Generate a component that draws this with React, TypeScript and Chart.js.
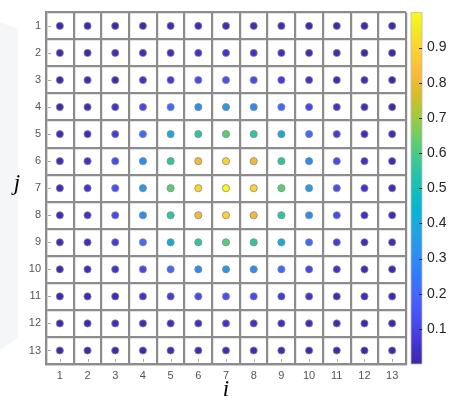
import { useEffect, useRef } from 'react';
import { Chart, registerables } from 'chart.js';

Chart.register(...registerables);

// ---- data ----
const iLabels = ['1', '2', '3', '4', '5', '6', '7', '8', '9', '10', '11', '12', '13'];
const jLabels = ['1', '2', '3', '4', '5', '6', '7', '8', '9', '10', '11', '12', '13'];

const row1 = [0.01, 0.01, 0.01, 0.01, 0.02, 0.02, 0.02, 0.02, 0.02, 0.01, 0.01, 0.01, 0.01];
const row2 = [0.01, 0.01, 0.02, 0.02, 0.03, 0.04, 0.05, 0.04, 0.03, 0.02, 0.02, 0.01, 0.01];
const row3 = [0.01, 0.02, 0.02, 0.05, 0.08, 0.12, 0.14, 0.12, 0.08, 0.05, 0.02, 0.02, 0.01];
const row4 = [0.01, 0.02, 0.05, 0.11, 0.21, 0.30, 0.34, 0.30, 0.21, 0.11, 0.05, 0.02, 0.01];
const row5 = [0.02, 0.03, 0.08, 0.21, 0.41, 0.55, 0.62, 0.55, 0.41, 0.21, 0.08, 0.03, 0.02];
const row6 = [0.02, 0.04, 0.12, 0.30, 0.55, 0.81, 0.90, 0.81, 0.55, 0.30, 0.12, 0.04, 0.02];
const row7 = [0.02, 0.05, 0.14, 0.34, 0.62, 0.90, 1.00, 0.90, 0.62, 0.34, 0.14, 0.05, 0.02];
const row8 = [0.02, 0.04, 0.12, 0.30, 0.55, 0.81, 0.90, 0.81, 0.55, 0.30, 0.12, 0.04, 0.02];
const row9 = [0.02, 0.03, 0.08, 0.21, 0.41, 0.55, 0.62, 0.55, 0.41, 0.21, 0.08, 0.03, 0.02];
const row10 = [0.01, 0.02, 0.05, 0.11, 0.21, 0.30, 0.34, 0.30, 0.21, 0.11, 0.05, 0.02, 0.01];
const row11 = [0.01, 0.02, 0.02, 0.05, 0.08, 0.12, 0.14, 0.12, 0.08, 0.05, 0.02, 0.02, 0.01];
const row12 = [0.01, 0.01, 0.02, 0.02, 0.03, 0.04, 0.05, 0.04, 0.03, 0.02, 0.02, 0.01, 0.01];
const row13 = [0.01, 0.01, 0.01, 0.01, 0.02, 0.02, 0.02, 0.02, 0.02, 0.01, 0.01, 0.01, 0.01];
const valueRows = [row1, row2, row3, row4, row5, row6, row7, row8, row9, row10, row11, row12, row13];

const colorbarTicks = [0.1, 0.2, 0.3, 0.4, 0.5, 0.6, 0.7, 0.8, 0.9];
const colorbarMin = 0;
const colorbarMax = 1;

const xTitle = 'i';
const yTitle = 'j';

// ---- parula colormap ----
const PARULA: number[][] = [
  [0.2422, 0.1504, 0.6603],
  [0.2706, 0.2147, 0.8364],
  [0.2813, 0.3006, 0.9414],
  [0.2699, 0.3892, 0.9906],
  [0.1963, 0.4847, 0.9892],
  [0.1687, 0.5703, 0.9359],
  [0.1248, 0.6459, 0.8883],
  [0.0297, 0.7082, 0.8163],
  [0.0964, 0.75, 0.712],
  [0.2161, 0.7843, 0.5923],
  [0.3909, 0.8029, 0.4354],
  [0.6174, 0.7876, 0.2612],
  [0.8203, 0.7498, 0.1535],
  [0.9728, 0.7298, 0.2394],
  [0.9892, 0.8136, 0.1885],
  [0.9597, 0.9135, 0.1423],
  [0.9769, 0.9839, 0.0805],
];
const PARULA_POS = PARULA.map((_, k) => (k < 16 ? (k * 4) / 63 : 1));

function parula(v: number): string {
  const t = Math.max(0, Math.min(1, (v - colorbarMin) / (colorbarMax - colorbarMin)));
  let k = 0;
  while (k < PARULA.length - 2 && t > PARULA_POS[k + 1]) k++;
  const a = PARULA[k];
  const b = PARULA[k + 1];
  const f = (t - PARULA_POS[k]) / (PARULA_POS[k + 1] - PARULA_POS[k]);
  const c = [0, 1, 2].map((n) => Math.round(255 * (a[n] + (b[n] - a[n]) * f)));
  return `rgb(${c[0]},${c[1]},${c[2]})`;
}

const points: { x: string; y: string; v: number }[] = [];
valueRows.forEach((row, jIdx) => {
  row.forEach((v, iIdx) => {
    points.push({ x: iLabels[iIdx], y: jLabels[jIdx], v });
  });
});

const GRID = '#8c8c8c';

const extrasPlugin = {
  id: 'extras',
  beforeDraw(chart: any) {
    const ctx = chart.ctx;
    ctx.save();
    ctx.fillStyle = '#f4f6f8';
    ctx.beginPath();
    ctx.moveTo(0, 22);
    ctx.lineTo(18, 29);
    ctx.lineTo(18, 338);
    ctx.lineTo(0, 350);
    ctx.closePath();
    ctx.fill();
    ctx.restore();
  },
  afterDraw(chart: any) {
    const ctx = chart.ctx;
    const area = chart.chartArea;
    const cb = chart.scales.cb;
    const xs = chart.scales.x;
    const ys = chart.scales.y;
    ctx.save();
    // colorbar
    const x0 = area.right + 5;
    const w = 11;
    const top = cb.top;
    const bottom = cb.bottom;
    for (let y = Math.floor(top); y < Math.ceil(bottom); y++) {
      const v = cb.getValueForPixel(y + 0.5);
      ctx.fillStyle = parula(v);
      ctx.fillRect(x0, y, w, 1);
    }
    ctx.strokeStyle = '#bdbdbd';
    ctx.lineWidth = 0.8;
    ctx.strokeRect(x0, top, w, bottom - top);
    ctx.strokeStyle = '#262626';
    ctx.lineWidth = 1;
    colorbarTicks.forEach((t) => {
      const py = Math.round(cb.getPixelForValue(t)) + 0.5;
      ctx.beginPath();
      ctx.moveTo(x0 + w - 3, py);
      ctx.lineTo(x0 + w, py);
      ctx.stroke();
    });
    // small inward axis ticks
    ctx.strokeStyle = '#a8a8a8';
    ctx.lineWidth = 1;
    iLabels.forEach((_, k) => {
      const px = Math.round(xs.getPixelForTick(k)) + 0.5;
      ctx.beginPath();
      ctx.moveTo(px, area.bottom - 2);
      ctx.lineTo(px, area.bottom - 5);
      ctx.stroke();
    });
    jLabels.forEach((_, k) => {
      const py = Math.round(ys.getPixelForTick(k)) + 0.5;
      ctx.beginPath();
      ctx.moveTo(area.left + 2, py);
      ctx.lineTo(area.left + 5, py);
      ctx.stroke();
    });
    // axis titles
    ctx.fillStyle = '#000000';
    ctx.font = 'italic 23px "Liberation Serif", "Times New Roman", serif';
    ctx.textAlign = 'center';
    ctx.textBaseline = 'alphabetic';
    ctx.fillText(xTitle, (area.left + area.right) / 2, 396);
    ctx.fillText(yTitle, 17, 190);
    ctx.restore();
  },
};

export default function App() {
  const ref = useRef<HTMLCanvasElement | null>(null);
  useEffect(() => {
    if (!ref.current) return;
    const chart = new Chart(ref.current, {
      type: 'scatter',
      data: {
        datasets: [
          {
            data: points as any,
            pointRadius: 3.6,
            pointHoverRadius: 3.6,
            pointBackgroundColor: points.map((p) => parula(p.v)),
            pointBorderColor: '#8a8a8a',
            pointBorderWidth: 0.8,
            showLine: false,
          },
        ],
      },
      options: {
        animation: false,
        responsive: false,
        devicePixelRatio: 1,
        layout: { padding: { top: 4, left: 0, right: 0, bottom: 0 } },
        plugins: { legend: { display: false }, tooltip: { enabled: false } },
        scales: {
          x: {
            type: 'category',
            labels: iLabels,
            position: 'bottom',
            offset: true,
            grid: { offset: true, color: GRID, lineWidth: 2.2, drawTicks: false },
            border: { display: true, color: GRID, width: 2.2 },
            ticks: {
              color: '#555555',
              font: { family: '"Liberation Sans", Arial, sans-serif', size: 11 },
              padding: 5,
              maxRotation: 0,
              autoSkip: false,
            },
            afterFit: (s: any) => {
              s.height = 36;
            },
          },
          y: {
            type: 'category',
            labels: jLabels,
            position: 'left',
            offset: true,
            grid: { offset: true, color: GRID, lineWidth: 2.2, drawTicks: false },
            border: { display: true, color: GRID, width: 2.2 },
            ticks: {
              color: '#555555',
              font: { family: '"Liberation Sans", Arial, sans-serif', size: 11 },
              padding: 5,
              autoSkip: false,
            },
            afterFit: (s: any) => {
              s.width = 46;
            },
          },
          cb: {
            type: 'linear',
            position: 'right',
            min: colorbarMin,
            max: colorbarMax,
            afterBuildTicks: (s: any) => {
              s.ticks = colorbarTicks.map((v) => ({ value: v }));
            },
            grid: {
              display: true,
              drawOnChartArea: false,
              drawTicks: true,
              tickLength: 17,
              tickColor: 'rgba(0,0,0,0)',
            },
            border: { display: false },
            ticks: {
              color: '#262626',
              font: { family: '"Liberation Sans", Arial, sans-serif', size: 14 },
              padding: 4,
              callback: (v: any) => Number(v).toFixed(1),
            },
            afterFit: (s: any) => {
              s.width = 43;
            },
          },
        },
      },
      plugins: [extrasPlugin],
    });
    return () => chart.destroy();
  }, []);
  return (
    <div style={{ position: 'absolute', left: 0, top: 0, width: 449, height: 400, background: '#ffffff' }}>
      <canvas ref={ref} width={449} height={400} style={{ display: 'block' }} />
    </div>
  );
}
